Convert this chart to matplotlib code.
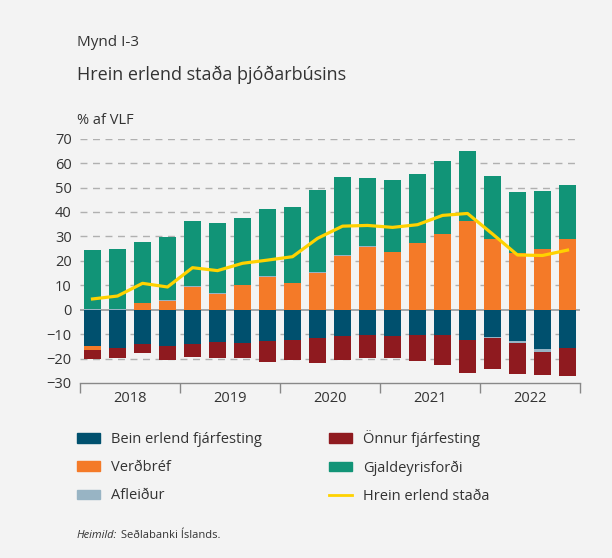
import numpy as np
import matplotlib
matplotlib.use("Agg")
import matplotlib.pyplot as plt
from matplotlib.patches import Patch
from matplotlib.lines import Line2D

plt.rcParams["font.family"] = ["Open Sans", "DejaVu Sans"]

years = ["2018", "2019", "2020", "2021", "2022"]

# % af VLF, ársfjórðungar 2018 F1 - 2022 F4
bein = [-14.9, -15.7, -13.9, -14.9, -13.9, -13.1, -13.6, -12.8, -12.3, -11.5,
        -10.8, -10.4, -10.6, -10.4, -10.4, -12.3, -11.2, -12.8, -16.1, -15.7]
verdbref = [-1.6, 0.0, 2.7, 3.7, 9.4, 6.5, 10.1, 13.4, 10.9, 15.0,
            22.1, 25.6, 23.6, 27.3, 31.0, 36.3, 28.9, 23.2, 24.8, 28.9]
afleidur = [0.3, 0.2, 0.1, 0.3, 0.3, 0.3, 0.2, 0.3, 0.2, 0.3,
            0.3, 0.4, 0.1, 0.1, 0.1, 0.1, -0.4, -0.8, -1.2, 0.1]
onnur = [-3.7, -4.1, -3.8, -5.7, -5.5, -6.7, -6.1, -8.6, -8.3, -10.4,
         -9.8, -9.4, -9.1, -10.6, -12.3, -13.6, -12.7, -12.7, -9.4, -11.5]
gjaldeyri = [24.1, 24.6, 24.9, 25.7, 26.6, 28.7, 27.2, 27.5, 30.9, 33.7,
             31.9, 27.9, 29.4, 28.1, 29.7, 28.5, 25.8, 25.0, 23.8, 22.0]
hrein = [4.4, 5.6, 10.8, 9.3, 17.2, 16.0, 19.0, 20.3, 21.7, 29.2,
         34.2, 34.5, 33.7, 34.8, 38.6, 39.4, 31.0, 22.4, 22.2, 24.4]

series = [
    ("Bein erlend fjárfesting", bein, "#00506e"),
    ("Verðbréf", verdbref, "#f47a28"),
    ("Afleiður", afleidur, "#98b4c4"),
    ("Önnur fjárfesting", onnur, "#8f1a1f"),
    ("Gjaldeyrisforði", gjaldeyri, "#119477"),
]
line_color = "#ffd200"
bg = "#f3f3f3"
txt = "#333333"

fig = plt.figure(figsize=(6.12, 5.58), dpi=100, facecolor=bg)
ax = fig.add_axes([80 / 612, 1 - 383 / 558, 500 / 612, (383 - 138.7) / 558])
ax.set_facecolor(bg)

n = len(bein)
x = np.arange(n) + 0.5
pos_bottom = np.zeros(n)
neg_bottom = np.zeros(n)
for name, vals, col in series:
    v = np.array(vals)
    p = np.where(v > 0, v, 0)
    m = np.where(v < 0, v, 0)
    ax.bar(x, p, bottom=pos_bottom, width=0.68, color=col, zorder=3)
    ax.bar(x, m, bottom=neg_bottom, width=0.68, color=col, zorder=3)
    pos_bottom += p
    neg_bottom += m

ax.plot(x, hrein, color=line_color, lw=2.3, zorder=4, solid_joinstyle="round")

ax.set_xlim(0, n)
ax.set_ylim(-30, 70)
ax.set_yticks(range(-30, 71, 10))
for yv in range(-20, 71, 10):
    if yv == 0:
        ax.axhline(0, color="#999999", lw=1.2, zorder=2)
    else:
        ax.axhline(yv, color="#b0b0b0", lw=1, ls=(0, (5, 4)), zorder=1)

ax.set_xticks([0, 4, 8, 12, 16, 20])
ax.set_xticklabels([])
ax.set_xticks([2, 6, 10, 14, 18], minor=True)
ax.set_xticklabels(years, minor=True)
ax.tick_params(axis="x", which="major", length=7, width=1, color="#888888", direction="out")
ax.tick_params(axis="x", which="minor", length=0, pad=6, labelsize=10.5, labelcolor=txt)
ax.tick_params(axis="y", length=0, pad=6, labelsize=10.5, labelcolor=txt)

for s in ["top", "right", "left"]:
    ax.spines[s].set_visible(False)
ax.spines["bottom"].set_color("#888888")
ax.spines["bottom"].set_linewidth(1)

fig.text(77 / 612, 1 - 42 / 558, "Mynd I-3", fontsize=11, color=txt, va="center")
fig.text(77 / 612, 1 - 75 / 558, "Hrein erlend staða þjóðarbúsins", fontsize=13, color=txt, va="center")
fig.text(77 / 612, 1 - 121 / 558, "% af VLF", fontsize=10.5, color=txt, va="center")

handles = [Patch(color=c) for _, _, c in series]
labels = [s[0] for s in series]
h = [handles[0], handles[1], handles[2], handles[3], handles[4],
     Line2D([], [], color=line_color, lw=2)]
l = [labels[0], labels[1], labels[2], labels[3], labels[4], "Hrein erlend staða"]
fig.legend(h, l, loc="upper left", bbox_to_anchor=(64 / 612, 1 - 417 / 558),
           ncol=2, frameon=False, fontsize=10.5, labelcolor=txt,
           handlelength=1.6, handleheight=0.6, columnspacing=4.55, labelspacing=0.9,
           handletextpad=0.75)

fig.text(77 / 612, 1 - 536 / 558, "Heimild:", fontsize=8, style="italic", color=txt, va="center")
fig.text(121 / 612, 1 - 536 / 558, "Seðlabanki Íslands.", fontsize=8, color=txt, va="center")

fig.savefig("out.png", dpi=100, facecolor=bg)
